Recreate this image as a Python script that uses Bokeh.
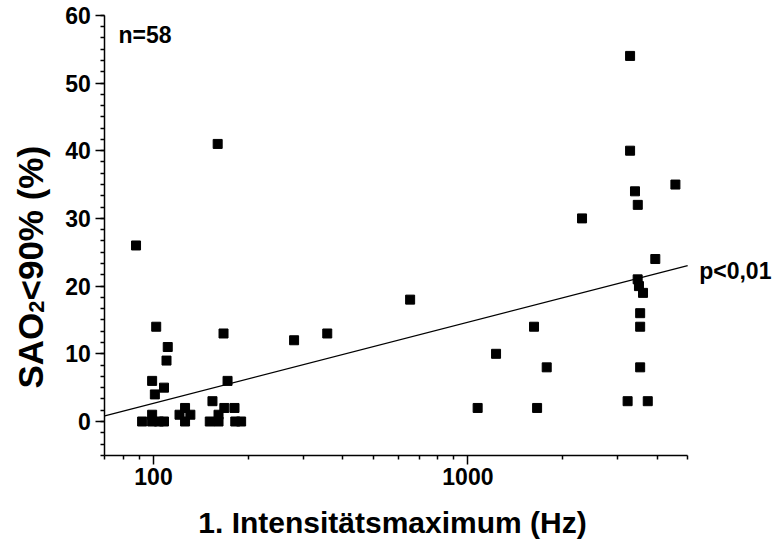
import numpy as np
from bokeh.plotting import figure
from bokeh.models import FixedTicker, PrintfTickFormatter, Label
from bokeh.embed import file_html
from bokeh.resources import INLINE

# ---- data ----
freq_hz = [88, 160, 102, 111, 110, 99, 108, 101, 167, 172, 154,
           92, 99, 104, 108, 99,
           121, 126, 126, 131,
           151, 161, 182, 190, 161, 168, 181,
           280, 357, 655, 1074, 1229, 1623, 1660, 1781,
           2307, 3280, 3280, 3400, 3470, 3945, 3467, 3500, 3606, 3531, 3531, 3531, 3221, 3733, 4571]
sao2_pct = [26, 41, 14, 11, 9, 6, 5, 4, 13, 6, 3,
            0, 0, 0, 0, 1,
            1, 0, 2, 1,
            0, 0, 0, 0, 1, 2, 2,
            12, 13, 18, 2, 10, 14, 2, 8,
            30, 54, 40, 34, 32, 24, 21, 20, 19, 16, 14, 8, 3, 3, 35]

# regression line  y = a + b*log10(x)
reg_intercept = -21.25
reg_slope = 11.97
reg_x = [70, 5000]

x_major = [100, 1000]
y_major = [0, 10, 20, 30, 40, 50, 60]
x_axis_span = (70, 5000)
y_axis_span = (-5, 60)

FONT = "Liberation Sans"

# window-pixel -> data helpers (for range and annotation placement only)
def wx(px):
    return 10 ** (2 + (px - 161.0) / 314.4)

def wy(py):
    return (429.0 - py) / 6.77

MARGIN = 8
W, H = 776, 539
p = figure(width=W, height=H, x_axis_type="log",
           x_range=(wx(MARGIN), wx(MARGIN + W)), y_range=(wy(MARGIN + H), wy(MARGIN)),
           output_backend="svg", toolbar_location=None)
p.min_border = 0
p.min_border_left = 0
p.min_border_right = 0
p.min_border_top = 0
p.min_border_bottom = 0
p.title.visible = False
p.outline_line_color = None
p.xgrid.visible = False
p.ygrid.visible = False
p.background_fill_color = "white"
p.border_fill_color = "white"

reg_y = [reg_intercept + reg_slope * np.log10(v) for v in reg_x]
p.line(reg_x, reg_y, line_color="black", line_width=1.2)
p.scatter(freq_hz, sao2_pct, marker="square", size=9, fill_color="black", line_color="black")

x_minor = [70, 80, 90, 200, 300, 400, 500, 600, 700, 800, 900, 2000, 3000, 4000, 5000]
p.xaxis.ticker = FixedTicker(ticks=x_major, minor_ticks=x_minor)
p.xaxis.formatter = PrintfTickFormatter(format="%d")
y_minor = list(np.round(np.arange(-5, 60.001, 10 / 6), 4))
p.yaxis.ticker = FixedTicker(ticks=y_major, minor_ticks=y_minor)
p.xaxis.fixed_location = y_axis_span[0]
p.xaxis.bounds = x_axis_span
p.yaxis.fixed_location = x_axis_span[0]
p.yaxis.bounds = y_axis_span

for ax in (p.xaxis[0], p.yaxis[0]):
    ax.axis_line_width = 1.5
    ax.major_tick_line_width = 1.5
    ax.minor_tick_line_width = 1.5
    ax.major_tick_out = 9
    ax.major_tick_in = 0
    ax.minor_tick_out = 4
    ax.minor_tick_in = 0
    ax.major_label_text_font = FONT
    ax.major_label_text_font_style = "bold"
    ax.major_label_text_font_size = "23px"
    ax.major_label_text_color = "black"
p.xaxis.major_label_standoff = 4
p.yaxis.major_label_standoff = 5

def add_label(x, y, text, size, angle=0, align="left"):
    p.add_layout(Label(x=x, y=y, text=text, text_font=FONT, text_font_style="bold",
                       text_font_size=size, text_color="black", angle=angle,
                       text_align=align, text_baseline="alphabetic"))

add_label(wx(126), wy(42.7), "n=58", "23px")
add_label(wx(706.7), wy(278.3), "p<0,01", "23px")

# x title (raised a little so it stays inside the canvas)
add_label(wx(400), wy(530), "1. Intensitätsmaximum (Hz)", "30px", align="center")

# y title, rotated, with subscript 2
base_x = 37.6
start_y = 396.0
add_label(wx(base_x), wy(start_y), "SAO", "35px", angle=np.pi / 2)
add_label(wx(base_x + 6), wy(start_y - 75.8), "2", "22px", angle=np.pi / 2)
add_label(wx(base_x), wy(start_y - 75.8 - 12.2), "<90% (%)", "35px", angle=np.pi / 2)

open("out.html", "w").write(file_html(p, INLINE))
